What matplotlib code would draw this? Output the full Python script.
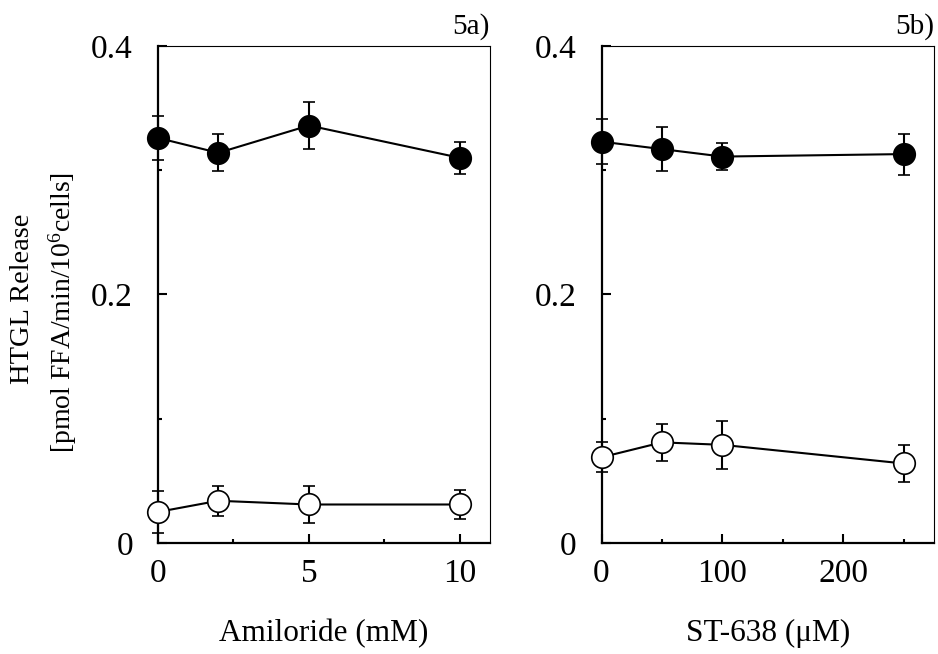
import matplotlib
matplotlib.use("Agg")
import matplotlib.pyplot as plt
from matplotlib.ticker import MultipleLocator

plt.rcParams['font.family'] = ['Liberation Serif', 'DejaVu Serif']
plt.rcParams['mathtext.fontset'] = 'custom'
plt.rcParams['mathtext.rm'] = 'Liberation Serif'
plt.rcParams['mathtext.it'] = 'Liberation Serif:italic'

# 5a) amiloride
amil_x = [0, 2, 5, 10]
amil_fill = [0.326, 0.314, 0.336, 0.310]
amil_fill_err = [0.018, 0.015, 0.019, 0.013]
amil_open = [0.025, 0.034, 0.031, 0.031]
amil_open_err = [0.017, 0.012, 0.015, 0.012]

# 5b) ST-638
st_x = [0, 50, 100, 250]
st_fill = [0.323, 0.317, 0.311, 0.313]
st_fill_err = [0.018, 0.018, 0.011, 0.0165]
st_open = [0.069, 0.081, 0.079, 0.064]
st_open_err = [0.012, 0.015, 0.0195, 0.0145]

fig = plt.figure(figsize=(9.38, 6.54), dpi=100)
ax1 = fig.add_axes([0.1684, 0.1697, 0.354, 0.760])
ax2 = fig.add_axes([0.6413, 0.1697, 0.3545, 0.760])


def draw(ax, x, yf, ef, yo, eo, xmax, major, minor, xlabel, tag):
	common = dict(color='black', lw=1.5, capsize=4, capthick=1.5, elinewidth=1.5,
				  markersize=15.5, markeredgecolor='black', markeredgewidth=1.2, clip_on=False)
	ax.errorbar(x, yo, yerr=eo, fmt='-o', markerfacecolor='white', zorder=3, **common)
	ax.errorbar(x, yf, yerr=ef, fmt='-o', markerfacecolor='black', zorder=3, **common)
	ax.set_xlim(0, xmax)
	ax.set_ylim(0, 0.4)
	ax.xaxis.set_major_locator(MultipleLocator(major))
	ax.xaxis.set_minor_locator(MultipleLocator(minor))
	ax.set_yticks([0, 0.2, 0.4])
	ax.set_yticklabels(['0', '0.2', '0.4'])
	ax.yaxis.set_minor_locator(MultipleLocator(0.1))
	ax.tick_params(which='both', direction='in', width=1.5, labelsize=24)
	ax.tick_params(which='major', length=6.5)
	ax.tick_params(which='minor', length=3.2)
	ax.tick_params(axis='y', which='both', pad=18)
	ax.tick_params(axis='x', which='both', pad=11)
	for s in ['left', 'bottom']:
		ax.spines[s].set_linewidth(1.6)
	for s in ['right', 'top']:
		ax.spines[s].set_linewidth(0.8)
	ax.text(1.0, 1.012, tag, transform=ax.transAxes, ha='right', va='bottom', fontsize=21)
	ax.set_xlabel(xlabel, fontsize=22.5, labelpad=22)


draw(ax1, amil_x, amil_fill, amil_fill_err, amil_open, amil_open_err, 11, 5, 2.5,
	 'Amiloride (mM)', '5a)')
draw(ax2, st_x, st_fill, st_fill_err, st_open, st_open_err, 275, 100, 50,
	 'ST-638 (\u03bcM)', '5b)')

fig.text(0.0245, 0.543, 'HTGL Release', rotation=90, ha='center', va='center', fontsize=20.5)
fig.text(0.067, 0.522, r'[pmol FFA/min/10$^{6}$cells]', rotation=90, ha='center', va='center', fontsize=20)

fig.savefig('out.png', dpi=100)
